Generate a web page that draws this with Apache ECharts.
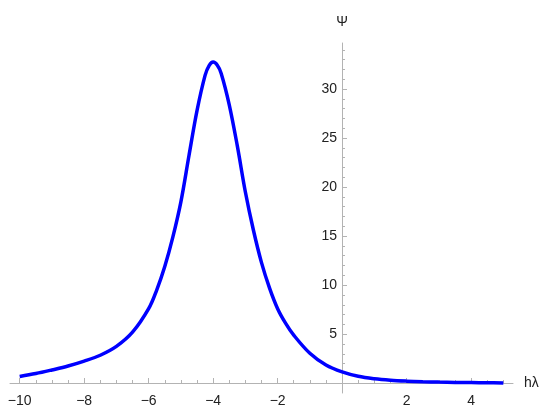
<!DOCTYPE html>
<html>
<head>
<meta charset="utf-8">
<script src="https://cdn.jsdelivr.net/npm/echarts@6/dist/echarts.min.js"></script>
<style>
  html, body { margin: 0; padding: 0; background: #fff; }
  #chart { width: 550px; height: 419px; }
</style>
</head>
<body>
<div id="chart"></div>
<script>
// curve
var hLambda = [-10, -9.5, -9, -8.5, -8, -7.5, -7, -6.5, -6, -5.75, -5.5, -5.25, -5, -4.75, -4.5, -4.25, -4.125, -4,
  -3.875, -3.75, -3.5, -3.25, -3, -2.75, -2.5, -2.25, -2, -1.75, -1.5, -1, -0.5, 0, 0.5, 1, 1.5, 2, 2.5, 3, 3.5, 4, 4.5, 5];
var psi = [0.68, 0.98, 1.35, 1.75, 2.25, 2.85, 3.75, 5.2, 7.6, 9.5, 11.9, 14.9, 18.5, 23.2, 27.8, 31.4, 32.4, 32.75,
  32.45, 31.6, 28.4, 24.2, 19.5, 15.6, 12.3, 9.7, 7.6, 6.1, 4.9, 3.05, 1.85, 1.15, 0.7, 0.45, 0.3, 0.21, 0.15, 0.11, 0.08, 0.06, 0.04, 0.03];

// ticks
var xMajor = [-10, -8, -6, -4, -2, 2, 4];
var xMinor = [-9.5, -9, -8.5, -7.5, -7, -6.5, -5.5, -5, -4.5, -3.5, -3, -2.5, -1.5, -1, -0.5,
  0.5, 1, 1.5, 2.5, 3, 3.5, 4.5, 5];
var yMajor = [5, 10, 15, 20, 25, 30];
var yMinor = [1, 2, 3, 4, 6, 7, 8, 9, 11, 12, 13, 14, 16, 17, 18, 19, 21, 22, 23, 24,
  26, 27, 28, 29, 31, 32, 33, 34];

var axisGray = '#b3b3b3';
var font = 'Liberation Sans, Arial, sans-serif';

// axes cross at (0,0): shift them in from the grid edges
var yAxisShift = -332;
var xAxisShift = -10;

var myChart = echarts.init(document.getElementById('chart'));

var points = hLambda.map(function (x, i) { return [x, psi[i]]; });

var option = {
  animation: false,
  backgroundColor: '#fff',
  grid: { left: 10, right: 37, top: 43, bottom: 26, containLabel: false },
  xAxis: [
    {
      type: 'value', min: -10.3, max: 5.3, position: 'bottom', offset: xAxisShift,
      name: 'hλ', nameLocation: 'end', nameGap: 11,
      nameTextStyle: { color: '#222', fontSize: 14, fontFamily: font, verticalAlign: 'middle' },
      splitLine: { show: false },
      axisLine: { onZero: false, lineStyle: { color: axisGray, width: 1 } },
      axisTick: { inside: true, length: 5, customValues: xMajor, lineStyle: { color: axisGray } },
      axisLabel: {
        customValues: xMajor, margin: 11, color: '#222', fontSize: 14, fontFamily: font,
        formatter: function (v) { return String(v).replace('-', '\u2212'); }
      }
    },
    {
      type: 'value', min: -10.3, max: 5.3, position: 'bottom', offset: xAxisShift,
      splitLine: { show: false },
      axisLine: { show: false, onZero: false },
      axisTick: { inside: true, length: 3, customValues: xMinor, lineStyle: { color: axisGray } },
      axisLabel: { show: false }
    }
  ],
  yAxis: [
    {
      type: 'value', min: -1, max: 34.7, position: 'left', offset: yAxisShift,
      name: 'Ψ', nameLocation: 'end', nameGap: 14,
      nameTextStyle: { color: '#222', fontSize: 14, fontFamily: font, align: 'center' },
      splitLine: { show: false },
      axisLine: { onZero: false, lineStyle: { color: axisGray, width: 1 } },
      axisTick: { inside: true, length: 5, customValues: yMajor, lineStyle: { color: axisGray } },
      axisLabel: { customValues: yMajor, margin: 5, color: '#222', fontSize: 14, fontFamily: font }
    },
    {
      type: 'value', min: -1, max: 34.7, position: 'left', offset: yAxisShift,
      splitLine: { show: false },
      axisLine: { show: false, onZero: false },
      axisTick: { inside: true, length: 3, customValues: yMinor, lineStyle: { color: axisGray } },
      axisLabel: { show: false }
    }
  ],
  series: [
    {
      type: 'line',
      xAxisIndex: 0,
      yAxisIndex: 0,
      data: points,
      smooth: 0.35,
      showSymbol: false,
      lineStyle: { color: '#0000ff', width: 3.5 }
    }
  ]
};

myChart.setOption(option);
</script>
</body>
</html>
